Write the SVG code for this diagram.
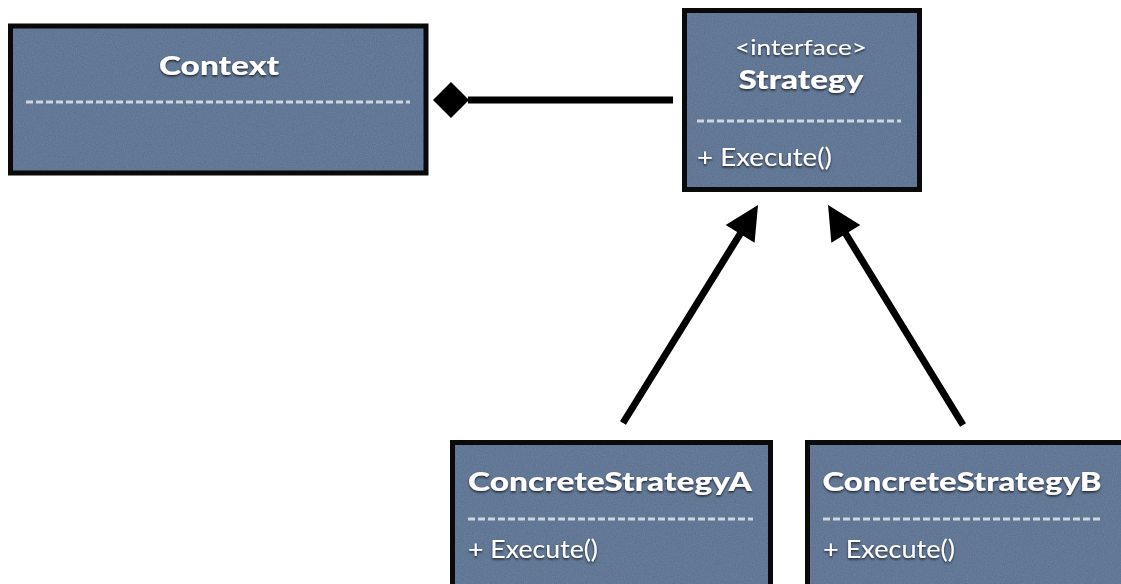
<svg xmlns="http://www.w3.org/2000/svg" width="1121" height="584" viewBox="0 0 1121 584">
  <defs>
    <filter id="txtShadow" x="-10%" y="-30%" width="120%" height="160%">
      <feDropShadow dx="0" dy="1.5" stdDeviation="1.2" flood-color="#000" flood-opacity="0.7"/>
    </filter>
    <filter id="linen" x="0" y="0" width="100%" height="100%">
      <feTurbulence type="fractalNoise" baseFrequency="0.9" numOctaves="2" seed="4" result="n"/>
      <feColorMatrix in="n" type="matrix" values="0 0 0 0 0.30  0 0 0 0 0.39  0 0 0 0 0.52  0 0 0 0.3 0" result="tint"/>
      <feComposite in="tint" in2="SourceGraphic" operator="in" result="tex"/>
      <feMerge><feMergeNode in="SourceGraphic"/><feMergeNode in="tex"/></feMerge>
    </filter>
    <marker id="diamond" markerUnits="userSpaceOnUse" markerWidth="40" markerHeight="40" refX="0" refY="0" orient="auto" overflow="visible">
      <path d="M1,0 L-17,-18 L-35,0 L-17,18 Z" fill="#000"/>
    </marker>
    <marker id="arrow" markerUnits="userSpaceOnUse" markerWidth="40" markerHeight="40" refX="14" refY="0" orient="auto" overflow="visible">
      <path d="M0,-17 L34,0 L0,17 Z" fill="#000"/>
    </marker>
  </defs>
  <style>
    .fill { fill: #566d8d; stroke: none; }
    .frame { fill: none; stroke: #0a0a0a; stroke-width: 5; }
    .title { font-family: "Lato", "Liberation Sans", sans-serif; font-weight: 900; fill: #ffffff; text-anchor: middle; }
    .stereo { font-family: "Lato", "Liberation Sans", sans-serif; font-weight: 400; font-size: 22px; fill: #ffffff; text-anchor: middle; }
    .member { font-family: "Lato", "Liberation Sans", sans-serif; font-weight: 400; font-size: 25px; fill: #ffffff; }
    .sep { stroke: #cdd5e0; stroke-width: 3; stroke-dasharray: 7 3; fill: none; }
    .link { stroke: #000; stroke-width: 7; fill: none; }
  </style>

  <rect width="1121" height="584" fill="#ffffff"/>

  <!-- Context -->
  <g id="context">
    <rect class="fill" x="10.5" y="26" width="415.5" height="147" filter="url(#linen)"/>
    <rect class="frame" x="10.5" y="26" width="415.5" height="147"/>
    <text class="title" x="219" y="75" font-size="27" textLength="120" lengthAdjust="spacingAndGlyphs" filter="url(#txtShadow)">Context</text>
    <line class="sep" x1="26" y1="102" x2="410" y2="102"/>
  </g>

  <!-- Strategy interface -->
  <g id="strategy">
    <rect class="fill" x="684.5" y="10.5" width="235" height="179" filter="url(#linen)"/>
    <rect class="frame" x="684.5" y="10.5" width="235" height="179"/>
    <text class="stereo" x="801" y="55" textLength="132" lengthAdjust="spacingAndGlyphs" filter="url(#txtShadow)">&lt;interface&gt;</text>
    <text class="title" x="801" y="89" font-size="26" textLength="125" lengthAdjust="spacingAndGlyphs" filter="url(#txtShadow)">Strategy</text>
    <line class="sep" x1="697" y1="121" x2="901" y2="121"/>
    <text class="member" x="697" y="166" textLength="135" lengthAdjust="spacingAndGlyphs" filter="url(#txtShadow)">+ Execute()</text>
  </g>

  <!-- ConcreteStrategyA -->
  <g id="concrete-a">
    <rect class="fill" x="452.5" y="442.5" width="318" height="170" filter="url(#linen)"/>
    <rect class="frame" x="452.5" y="442.5" width="318" height="170"/>
    <text class="title" x="610" y="491" font-size="27" textLength="284" lengthAdjust="spacingAndGlyphs" filter="url(#txtShadow)">ConcreteStrategyA</text>
    <line class="sep" x1="468" y1="519" x2="753" y2="519"/>
    <text class="member" x="468" y="558" textLength="130" lengthAdjust="spacingAndGlyphs" filter="url(#txtShadow)">+ Execute()</text>
  </g>

  <!-- ConcreteStrategyB -->
  <g id="concrete-b">
    <rect class="fill" x="807.5" y="442.5" width="330" height="170" filter="url(#linen)"/>
    <rect class="frame" x="807.5" y="442.5" width="330" height="170"/>
    <text class="title" x="962" y="491" font-size="27" textLength="279" lengthAdjust="spacingAndGlyphs" filter="url(#txtShadow)">ConcreteStrategyB</text>
    <line class="sep" x1="823" y1="519" x2="1102" y2="519"/>
    <text class="member" x="823" y="558" textLength="132" lengthAdjust="spacingAndGlyphs" filter="url(#txtShadow)">+ Execute()</text>
  </g>

  <!-- Connectors -->
  <g id="connectors">
    <line class="link" x1="468" y1="100" x2="673" y2="100" marker-start="url(#diamond)"/>
    <line class="link" x1="623" y1="423" x2="747.5" y2="222" marker-end="url(#arrow)"/>
    <line class="link" x1="963" y1="425" x2="838.5" y2="222" marker-end="url(#arrow)"/>
  </g>
</svg>
